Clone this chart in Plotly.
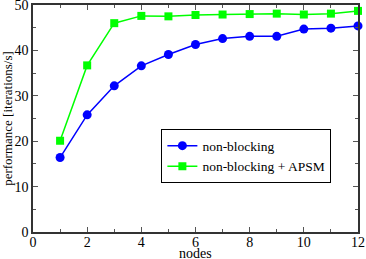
import plotly.graph_objects as go

nodes = [1, 2, 3, 4, 5, 6, 7, 8, 9, 10, 11, 12]
nonblocking = [16.4, 25.8, 32.2, 36.6, 39.1, 41.3, 42.6, 43.1, 43.1, 44.7, 44.9, 45.4]
nonblocking_apsm = [20.1, 36.7, 46.0, 47.6, 47.5, 47.8, 47.9, 48.0, 48.1, 47.9, 48.1, 48.7]

FONT = "Liberation Serif"

fig = go.Figure()
fig.add_trace(go.Scatter(
    x=nodes, y=nonblocking, mode="lines+markers", name="non-blocking",
    line=dict(color="#0000ff", width=1.5),
    marker=dict(symbol="circle", size=9, color="#0000ff"),
    cliponaxis=False,
))
fig.add_trace(go.Scatter(
    x=nodes, y=nonblocking_apsm, mode="lines+markers", name="non-blocking + APSM",
    line=dict(color="#00ff00", width=1.5),
    marker=dict(symbol="square", size=8, color="#00ff00"),
    cliponaxis=False,
))

axis_common = dict(
    showgrid=False, zeroline=False, showline=True, linecolor="#333333", linewidth=1.5,
    mirror="ticks", ticks="inside", ticklen=5, tickcolor="#555555", tickwidth=1,
    tickfont=dict(family=FONT, size=14, color="black"),
    automargin=False, ticklabeloverflow="allow",
)

fig.update_xaxes(
    range=[0, 12], tickmode="array", tickvals=[0, 2, 4, 6, 8, 10, 12],
    minor=dict(ticks="inside", ticklen=3, tickcolor="#555555", dtick=1, tick0=0),
    ticklabelstandoff=-4,
    **axis_common,
)
fig.update_yaxes(
    range=[0, 50], tickmode="array", tickvals=[0, 10, 20, 30, 40, 50],
    minor=dict(ticks="inside", ticklen=3, tickcolor="#555555", dtick=5, tick0=0),
    title=dict(text="performance [iterations/s]", font=dict(family=FONT, size=13, color="black"), standoff=4),
    **axis_common,
)

fig.add_annotation(
    text="nodes", xref="paper", yref="paper", x=0.5, y=-0.095,
    xanchor="center", yanchor="middle", showarrow=False,
    font=dict(family=FONT, size=14, color="black"),
)

fig.update_layout(
    width=366, height=259,
    margin=dict(l=33, r=8, t=5, b=27, autoexpand=False),
    plot_bgcolor="white", paper_bgcolor="white",
    font=dict(family=FONT, size=14, color="black"),
    showlegend=True,
    legend=dict(
        x=0.395, y=0.452, xanchor="left", yanchor="top",
        bgcolor="white", bordercolor="black", borderwidth=1,
        font=dict(family=FONT, size=13.5, color="black"),
        itemwidth=30, tracegroupgap=0,
    ),
)

fig.write_html(
    "out.html",
    config={"displayModeBar": False},
    post_script="document.body.style.margin='0';document.body.style.padding='0';",
)
